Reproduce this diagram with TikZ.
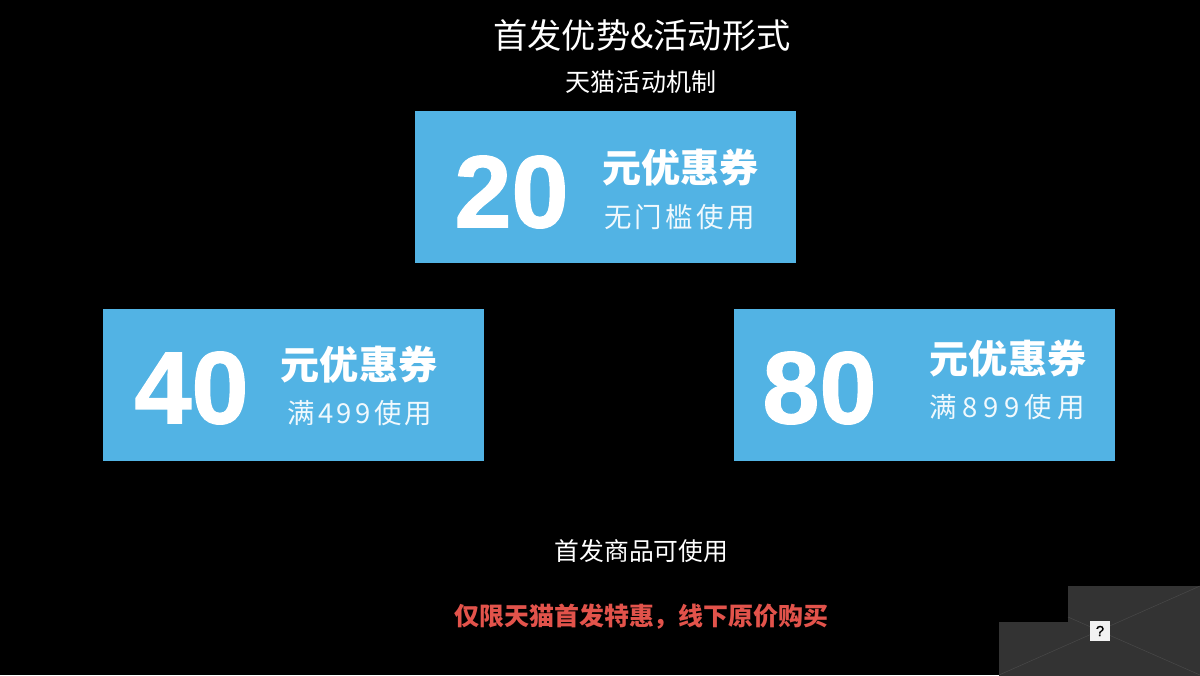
\documentclass[tikz,border=0pt]{standalone}
\usepackage{fontspec}
\setmainfont{Noto Sans CJK SC}
\newfontfamily\numfont{Liberation Sans}[FakeBold=1.2]
\newfontfamily\spacedfont{Noto Sans CJK SC}[LetterSpace=12]
\newfontfamily\widefont{Noto Sans CJK SC}[LetterSpace=20]
\usetikzlibrary{positioning}
\definecolor{couponblue}{HTML}{52B3E4}
\definecolor{slashred}{HTML}{E2534B}
\definecolor{placeholder}{HTML}{333333}
\definecolor{placeline}{HTML}{484848}
\begin{document}
\begin{tikzpicture}[x=0.75pt,y=-0.75pt]
\tikzstyle{coupon}=[rectangle,fill=couponblue,inner sep=0pt,minimum width=285.75pt,minimum height=114pt]
\tikzstyle{amount}=[text=white,inner sep=0pt,font=\numfont\bfseries\fontsize{77}{77}\selectfont]
\tikzstyle{ticket}=[text=white,inner sep=0pt,font=\bfseries\fontsize{29.3}{30}\selectfont]
\tikzstyle{usage}=[text=white!92!couponblue,inner sep=0pt,font=\spacedfont\fontsize{20.6}{21}\selectfont]
\tikzstyle{caption}=[text=white,inner sep=0pt]
\tikzstyle{imgbox}=[rectangle,fill=placeholder,inner sep=0pt,anchor=north west]
\fill[black] (0,0) rectangle (1200,675);
\useasboundingbox (0,0) rectangle (1200,675);
% heading
\node[caption,font=\fontsize{25.7}{26}\selectfont] (title) at (642,36) {首发优势\&活动形式};
\node[caption,font=\fontsize{18.8}{19}\selectfont] (subtitle) at (641,82) {天猫活动机制};
% coupons
\node[coupon] (top) at (605.5,187) {};
\node[amount] (top num) at (511.5,192) {20};
\node[ticket] (top name) at (680.5,168) {元优惠券};
\node[usage] (top use) at (679.5,217) {无门槛使用};
\node[coupon] (left) at (293.5,385) {};
\node[amount] (left num) at (191.5,388) {40};
\node[ticket] (left name) at (359,365) {元优惠券};
\node[usage] (left use) at (360,413) {满499使用};
\node[coupon] (right) at (924.5,385) {};
\node[amount] (right num) at (819.5,388) {80};
\node[ticket] (right name) at (1008,359) {元优惠券};
\node[usage,font=\widefont\fontsize{20.6}{21}\selectfont] (right use) at (1007.5,407) {满899使用};
% notes
\node[caption,font=\fontsize{18.6}{19}\selectfont] (note) at (641.5,551) {首发商品可使用};
\node[caption,text=slashred,font=\bfseries\fontsize{18.7}{19}\selectfont] (limit) at (641.5,617) {仅限天猫首发特惠，线下原价购买};
% broken images
\node[imgbox,minimum width=99pt,minimum height=67pt] (back img) at (1068,586) {};
\node[imgbox,minimum width=151pt,minimum height=40pt] (front img) at (999,622) {};
\coordinate (a) at (999,675);
\coordinate (b) at (1200,586);
\coordinate (c) at (1068,617);
\coordinate (d) at (1200,675);
\draw[placeline] (a) -- (b);
\draw[placeline] (c) -- (d);
\node[rectangle,fill=white!95!black,minimum width=15pt,minimum height=15pt,inner sep=0pt,font=\numfont\fontsize{11}{11}\selectfont,text=black] (icon) at (1100,631) {?};
\end{tikzpicture}
\end{document}
